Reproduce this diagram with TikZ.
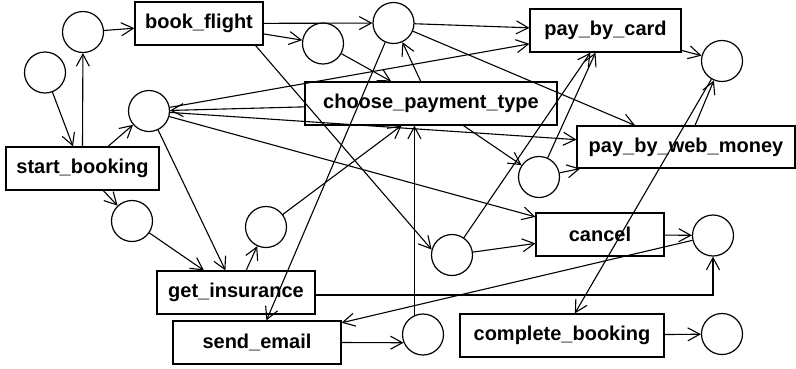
\documentclass[tikz,border=0pt]{standalone}
\usepackage{fontspec}
\setmainfont{Liberation Sans}
\usetikzlibrary{arrows.meta}
\begin{document}
\begin{tikzpicture}[x=1pt,y=-1pt,
  state/.style={circle,draw,line width=1.2pt,minimum size=41pt,inner sep=0pt},
  task/.style={rectangle,draw,line width=1.2pt,minimum height=43pt,inner sep=0pt,
    font=\fontsize{20}{24}\selectfont\bfseries},
  flow/.style={line width=1.1pt,-{Straight Barb[length=12pt,width=13pt,line width=1.1pt]}}
]
\useasboundingbox (0,0) rectangle (796,368);

% places (circles)
\node[state] (c1)  at (45,72.5)  {};
\node[state] (c2)  at (83,32)    {};
\node[state] (c3)  at (149,111)  {};
\node[state] (c4)  at (323,43.5) {};
\node[state] (c5)  at (393.5,23) {};
\node[state] (c6)  at (722,61)   {};
\node[state] (c7)  at (132,221)  {};
\node[state] (c8)  at (266,227)  {};
\node[state] (c9)  at (539,177)  {};
\node[state] (c10) at (452,255)  {};
\node[state] (c11) at (713,235.5){};
\node[state] (c12) at (423,334.5){};
\node[state] (c13) at (722,334)  {};

% transitions (boxes)
\node[task,minimum width=128pt] (book_flight)      at (199,23.5)  {book\_flight};
\node[task,minimum width=153pt] (start_booking)    at (82.5,168.5){start\_booking};
\node[task,minimum width=252pt] (choose_payment)   at (431,103.5) {choose\_payment\_type};
\node[task,minimum width=151pt] (pay_by_card)      at (605.5,30.5){pay\_by\_card};
\node[task,minimum width=218pt,minimum height=42pt] (pay_by_web_money) at (686,147) {pay\_by\_web\_money};
\node[task,minimum width=128pt] (cancel)           at (600,234.5) {cancel};
\node[task,minimum width=158pt] (get_insurance)    at (236,292.5) {get\_insurance};
\node[task,minimum width=168pt] (send_email)       at (257,342.5) {send\_email};
\node[task,minimum width=204pt] (complete_booking) at (562,335.5) {complete\_booking};

% arcs
\draw[flow] (c1) -- ([xshift=-9.5pt]start_booking.north);
\draw[flow] (start_booking.north) -- (c2);
\draw[flow] (c2) -- (book_flight);
\draw[flow] (start_booking) -- (c3);
\draw[flow] (book_flight) -- (c5);
\draw[flow] (book_flight) -- (c4);
\draw[flow] ([xshift=-8pt]book_flight.south east) -- (c10.165);
\draw[flow] (c4) -- (choose_payment);
\draw[flow] (choose_payment) -- (c5);
\draw[flow] (c5) -- (pay_by_card);
\draw[flow] (c5) -- (pay_by_web_money);
\draw[flow] (c5) -- (send_email);
\draw[flow] (c3) -- (pay_by_card);
\draw[flow] (choose_payment) -- (c3);
\draw[flow] (c3) -- (pay_by_web_money);
\draw[flow] (c3) -- (cancel);
\draw[flow] (c3) -- (get_insurance);
\draw[flow] (start_booking) -- (c7);
\draw[flow] (c7) -- (get_insurance);
\draw[flow] (get_insurance) -- (c8);
\draw[flow] (c8) -- (choose_payment);
\draw[flow] (c12.114) -- (c12.114 |- choose_payment.south);
\draw[flow] (send_email.east) -- (c12.203);
\draw[flow] ([yshift=-2.5pt]get_insurance.east) -| (c11.south);
\draw[flow] (c11) -- (send_email);
\draw[flow] (cancel) -- (c11);
\draw[flow] (c10) -- (cancel);
\draw[flow] (c10) -- (pay_by_card);
\draw[flow] (choose_payment) -- (c9);
\draw[flow] (c9) -- (pay_by_web_money);
\draw[flow] (c9) -- (pay_by_card);
\draw[flow] (pay_by_card) -- (c6);
\draw[flow] (pay_by_web_money) -- (c6);
\draw[flow] (c6) -- (complete_booking);
\draw[flow] (complete_booking) -- (c13);
\end{tikzpicture}
\end{document}
